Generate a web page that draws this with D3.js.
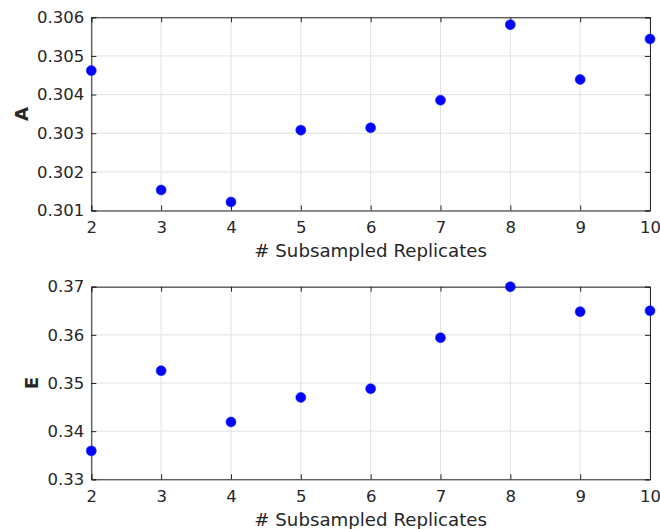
<!DOCTYPE html>
<html><head><meta charset="utf-8">
<script src="https://cdn.jsdelivr.net/npm/d3@7"></script>
<style>body{margin:0;background:#fff}svg{display:block}</style>
</head><body>
<script>
const replicates = [2,3,4,5,6,7,8,9,10];
const valuesA = [0.30462,0.30153,0.30122,0.30308,0.30314,0.303855,0.30581,0.30439,0.30544];
const valuesE = [0.3359,0.35255,0.3419,0.3470,0.3488,0.3594,0.3700,0.3648,0.3650];
const ticksA = [0.301,0.302,0.303,0.304,0.305,0.306];
const ticksE = [0.33,0.34,0.35,0.36,0.37];
const xTicks = [2,3,4,5,6,7,8,9,10];
const xLabel = "# Subsampled Replicates";

const W=660,H=529;
const svg=d3.select("body").append("svg").attr("width",W).attr("height",H);
const font="DejaVu Sans";
const txt="#262626";

function panel(top,bottom,yDomain,yTicks,vals,yName,fmt,yLabX){
  const left=91.3,right=650;
  const x=d3.scaleLinear().domain([2,10]).range([left,right]);
  const y=d3.scaleLinear().domain(yDomain).range([bottom,top]);
  const g=svg.append("g");
  g.selectAll(".gx").data(xTicks).enter().append("line")
    .attr("x1",d=>x(d)).attr("x2",d=>x(d)).attr("y1",top).attr("y2",bottom)
    .attr("stroke","#e2e2e2").attr("stroke-width",1);
  g.selectAll(".gy").data(yTicks).enter().append("line")
    .attr("y1",d=>y(d)).attr("y2",d=>y(d)).attr("x1",left).attr("x2",right)
    .attr("stroke","#e2e2e2").attr("stroke-width",1);
  const ax=g.append("g").attr("transform",`translate(0,${bottom})`)
    .call(d3.axisBottom(x).tickValues(xTicks).tickSize(-5).tickPadding(10.5).tickFormat(d3.format("d")));
  const axT=g.append("g").attr("transform",`translate(0,${top})`)
    .call(d3.axisTop(x).tickValues(xTicks).tickSize(-5).tickFormat(""));
  const ay=g.append("g").attr("transform",`translate(${left},0)`)
    .call(d3.axisLeft(y).tickValues(yTicks).tickSize(-5).tickPadding(7).tickFormat(d3.format(fmt)));
  const ayR=g.append("g").attr("transform",`translate(${right},0)`)
    .call(d3.axisRight(y).tickValues(yTicks).tickSize(-5).tickFormat(""));
  [ax,axT,ay,ayR].forEach(a=>{
    a.select(".domain").attr("stroke","#262626").attr("stroke-width",1);
    a.selectAll(".tick line").attr("stroke","#262626");
    a.selectAll("text").attr("font-family",font).attr("font-size",16.5).attr("fill",txt);
  });
  g.append("text").attr("x",(left+right)/2).attr("y",bottom+46.3)
    .attr("text-anchor","middle").attr("font-family",font).attr("font-size",18.2).attr("fill",txt).text(xLabel);
  g.append("text").attr("transform",`translate(${yLabX},${(top+bottom)/2}) rotate(-90)`)
    .attr("text-anchor","middle").attr("font-family",font).attr("font-weight","bold").attr("font-size",18.2).attr("fill",txt).text(yName);
  g.selectAll("circle").data(vals).enter().append("circle")
    .attr("cx",(d,i)=>x(replicates[i])).attr("cy",d=>y(d)).attr("r",5)
    .attr("fill","#0000ff").attr("stroke","#1a33ff").attr("stroke-width",0.6);
}
panel(17.3,210.5,[0.301,0.306],ticksA,valuesA,"A",".3f",27.5);
panel(286.7,479.3,[0.33,0.37],ticksE,valuesE,"E",".2f",37.5);
</script>
</body></html>
